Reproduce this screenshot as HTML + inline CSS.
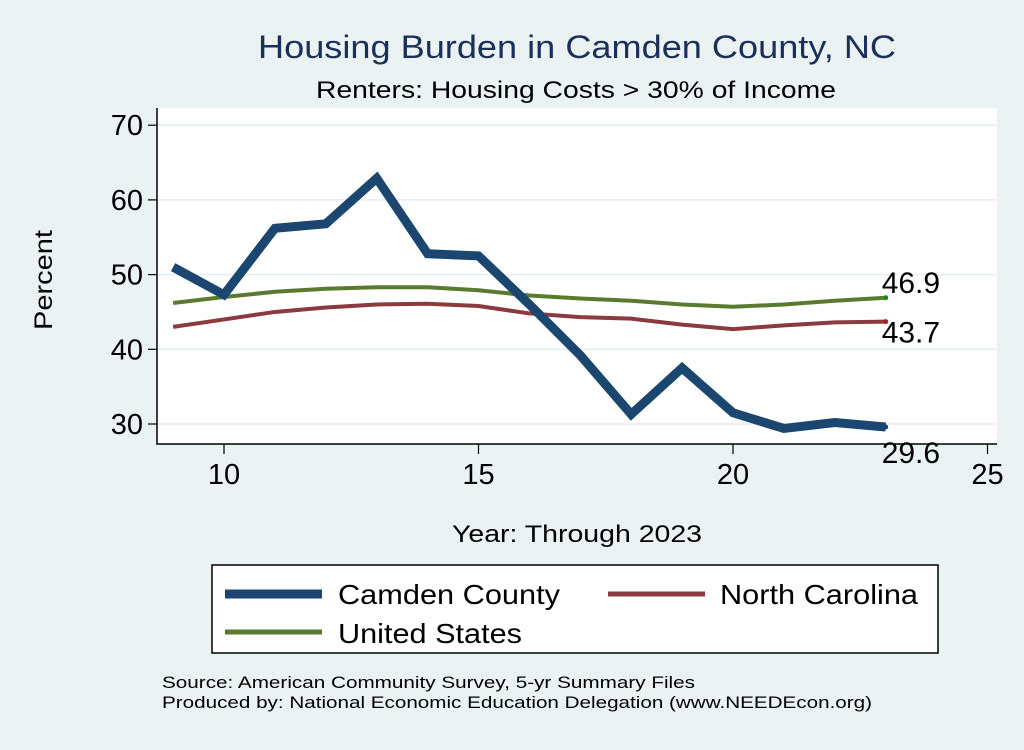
<!DOCTYPE html>
<html><head><meta charset="utf-8"><style>
body{margin:0;width:1024px;height:745px;background:#eaf2f3;font-family:"Liberation Sans",Arial,sans-serif;overflow:hidden}
</style></head><body>
<svg width="1024" height="745" xmlns="http://www.w3.org/2000/svg">
<rect x="0" y="0" width="1024" height="745" fill="#eaf2f3"/>
<text x="258" y="58" font-size="32" fill="#1a2f5a" textLength="638" lengthAdjust="spacingAndGlyphs">Housing Burden in Camden County, NC</text>
<text x="316" y="98" font-size="24" fill="#000" textLength="520" lengthAdjust="spacingAndGlyphs">Renters: Housing Costs &gt; 30% of Income</text>
<rect x="157" y="108" width="840" height="336" fill="#fff"/>
<g id="grid"></g>
<g id="axes"></g>
<g id="series"></g>
<text x="52" y="280" font-size="25" text-anchor="middle" textLength="100" lengthAdjust="spacingAndGlyphs" transform="rotate(-90 52 280)">Percent</text>
<text x="452" y="542" font-size="24" textLength="250" lengthAdjust="spacingAndGlyphs">Year: Through 2023</text>
<g>
<rect x="212" y="565" width="726" height="88" fill="#fff" stroke="#000" stroke-width="1.5"/>
<line x1="225" y1="594" x2="322" y2="594" stroke="#1a4670" stroke-width="9"/>
<text x="338" y="604" font-size="28" textLength="222" lengthAdjust="spacingAndGlyphs">Camden County</text>
<line x1="608" y1="594" x2="705" y2="594" stroke="#8b3a3f" stroke-width="5"/>
<text x="720" y="604" font-size="28" textLength="198" lengthAdjust="spacingAndGlyphs">North Carolina</text>
<line x1="225" y1="632" x2="322" y2="632" stroke="#5a7a30" stroke-width="5"/>
<text x="338" y="643" font-size="28" textLength="184" lengthAdjust="spacingAndGlyphs">United States</text>
</g>
<text x="162" y="688" font-size="17" textLength="533" lengthAdjust="spacingAndGlyphs">Source: American Community Survey, 5-yr Summary Files</text>
<text x="162" y="708" font-size="17" textLength="710" lengthAdjust="spacingAndGlyphs">Produced by: National Economic Education Delegation (www.NEEDEcon.org)</text>
</svg>
<script>
const years=[9,10,11,12,13,14,15,16,17,18,19,20,21,22,23];
const camden=[51,47.3,56.2,56.8,62.9,52.8,52.5,46,39.2,31.3,37.5,31.5,29.4,30.2,29.6];
const nc=[43,44,45,45.6,46,46.1,45.8,44.8,44.3,44.1,43.3,42.7,43.2,43.6,43.7];
const us=[46.2,47,47.7,48.1,48.3,48.3,47.9,47.2,46.8,46.5,46,45.7,46,46.5,46.9];
const yTicks=[30,40,50,60,70];
const xTicks=[10,15,20,25];
const NS="http://www.w3.org/2000/svg";
function X(v){return 224+(v-10)*50.9;}
function Y(v){return 424-(v-30)*7.47;}
function mk(tag,attrs,parent){const e=document.createElementNS(NS,tag);for(const k in attrs)e.setAttribute(k,attrs[k]);parent.appendChild(e);return e;}
const grid=document.getElementById('grid'),axes=document.getElementById('axes'),ser=document.getElementById('series');
yTicks.forEach(t=>{
 const g=mk('line',{x1:157,x2:997,y1:Y(t),y2:Y(t),stroke:'#e6eef1','stroke-width':1.5},grid);
 
 
 const tk=mk('line',{x1:148,x2:157,y1:Y(t),y2:Y(t),stroke:'#000','stroke-width':1.2},axes);
 
 
 const tx=mk('text',{x:143,y:Y(t)+10,'font-size':29,'text-anchor':'end'},axes);
 tx.textContent=t;
 
 
});
xTicks.forEach(t=>{
 const tk=mk('line',{x1:X(t),x2:X(t),y1:444,y2:454,stroke:'#000','stroke-width':1.2},axes);
 
 
 const tx=mk('text',{x:X(t),y:484,'font-size':29,'text-anchor':'middle'},axes);
 tx.textContent=t;
 
 
});
const ax=mk('path',{d:'M157 108 V444 H997',fill:'none',stroke:'#000','stroke-width':1.5},axes);


function line(vals,color,w,name,labelDy,dotColor){
 const d=vals.map((v,i)=>(i?'L':'M')+X(years[i])+' '+Y(v)).join(' ');
 const p=mk('path',{d:d,fill:'none',stroke:color,'stroke-width':w,'stroke-linejoin':'miter'},ser);
 
 
 const last=vals[vals.length-1],lx=X(years[years.length-1]),ly=Y(last);
 const c=mk('circle',{cx:lx,cy:ly,r:2.5,fill:dotColor},ser);
 
 
 const t=mk('text',{x:lx-4,y:ly+labelDy,'font-size':30},ser);
 t.textContent=last.toFixed(1);
 
 
}
line(nc,'#8b3a3f',4,'north-carolina',21,'#b02020');
line(us,'#5a7a30',4,'united-states',-5,'#1a8a1a');
line(camden,'#1a4670',9,'camden-county',36,'#1a4670');
</script>
</body></html>
